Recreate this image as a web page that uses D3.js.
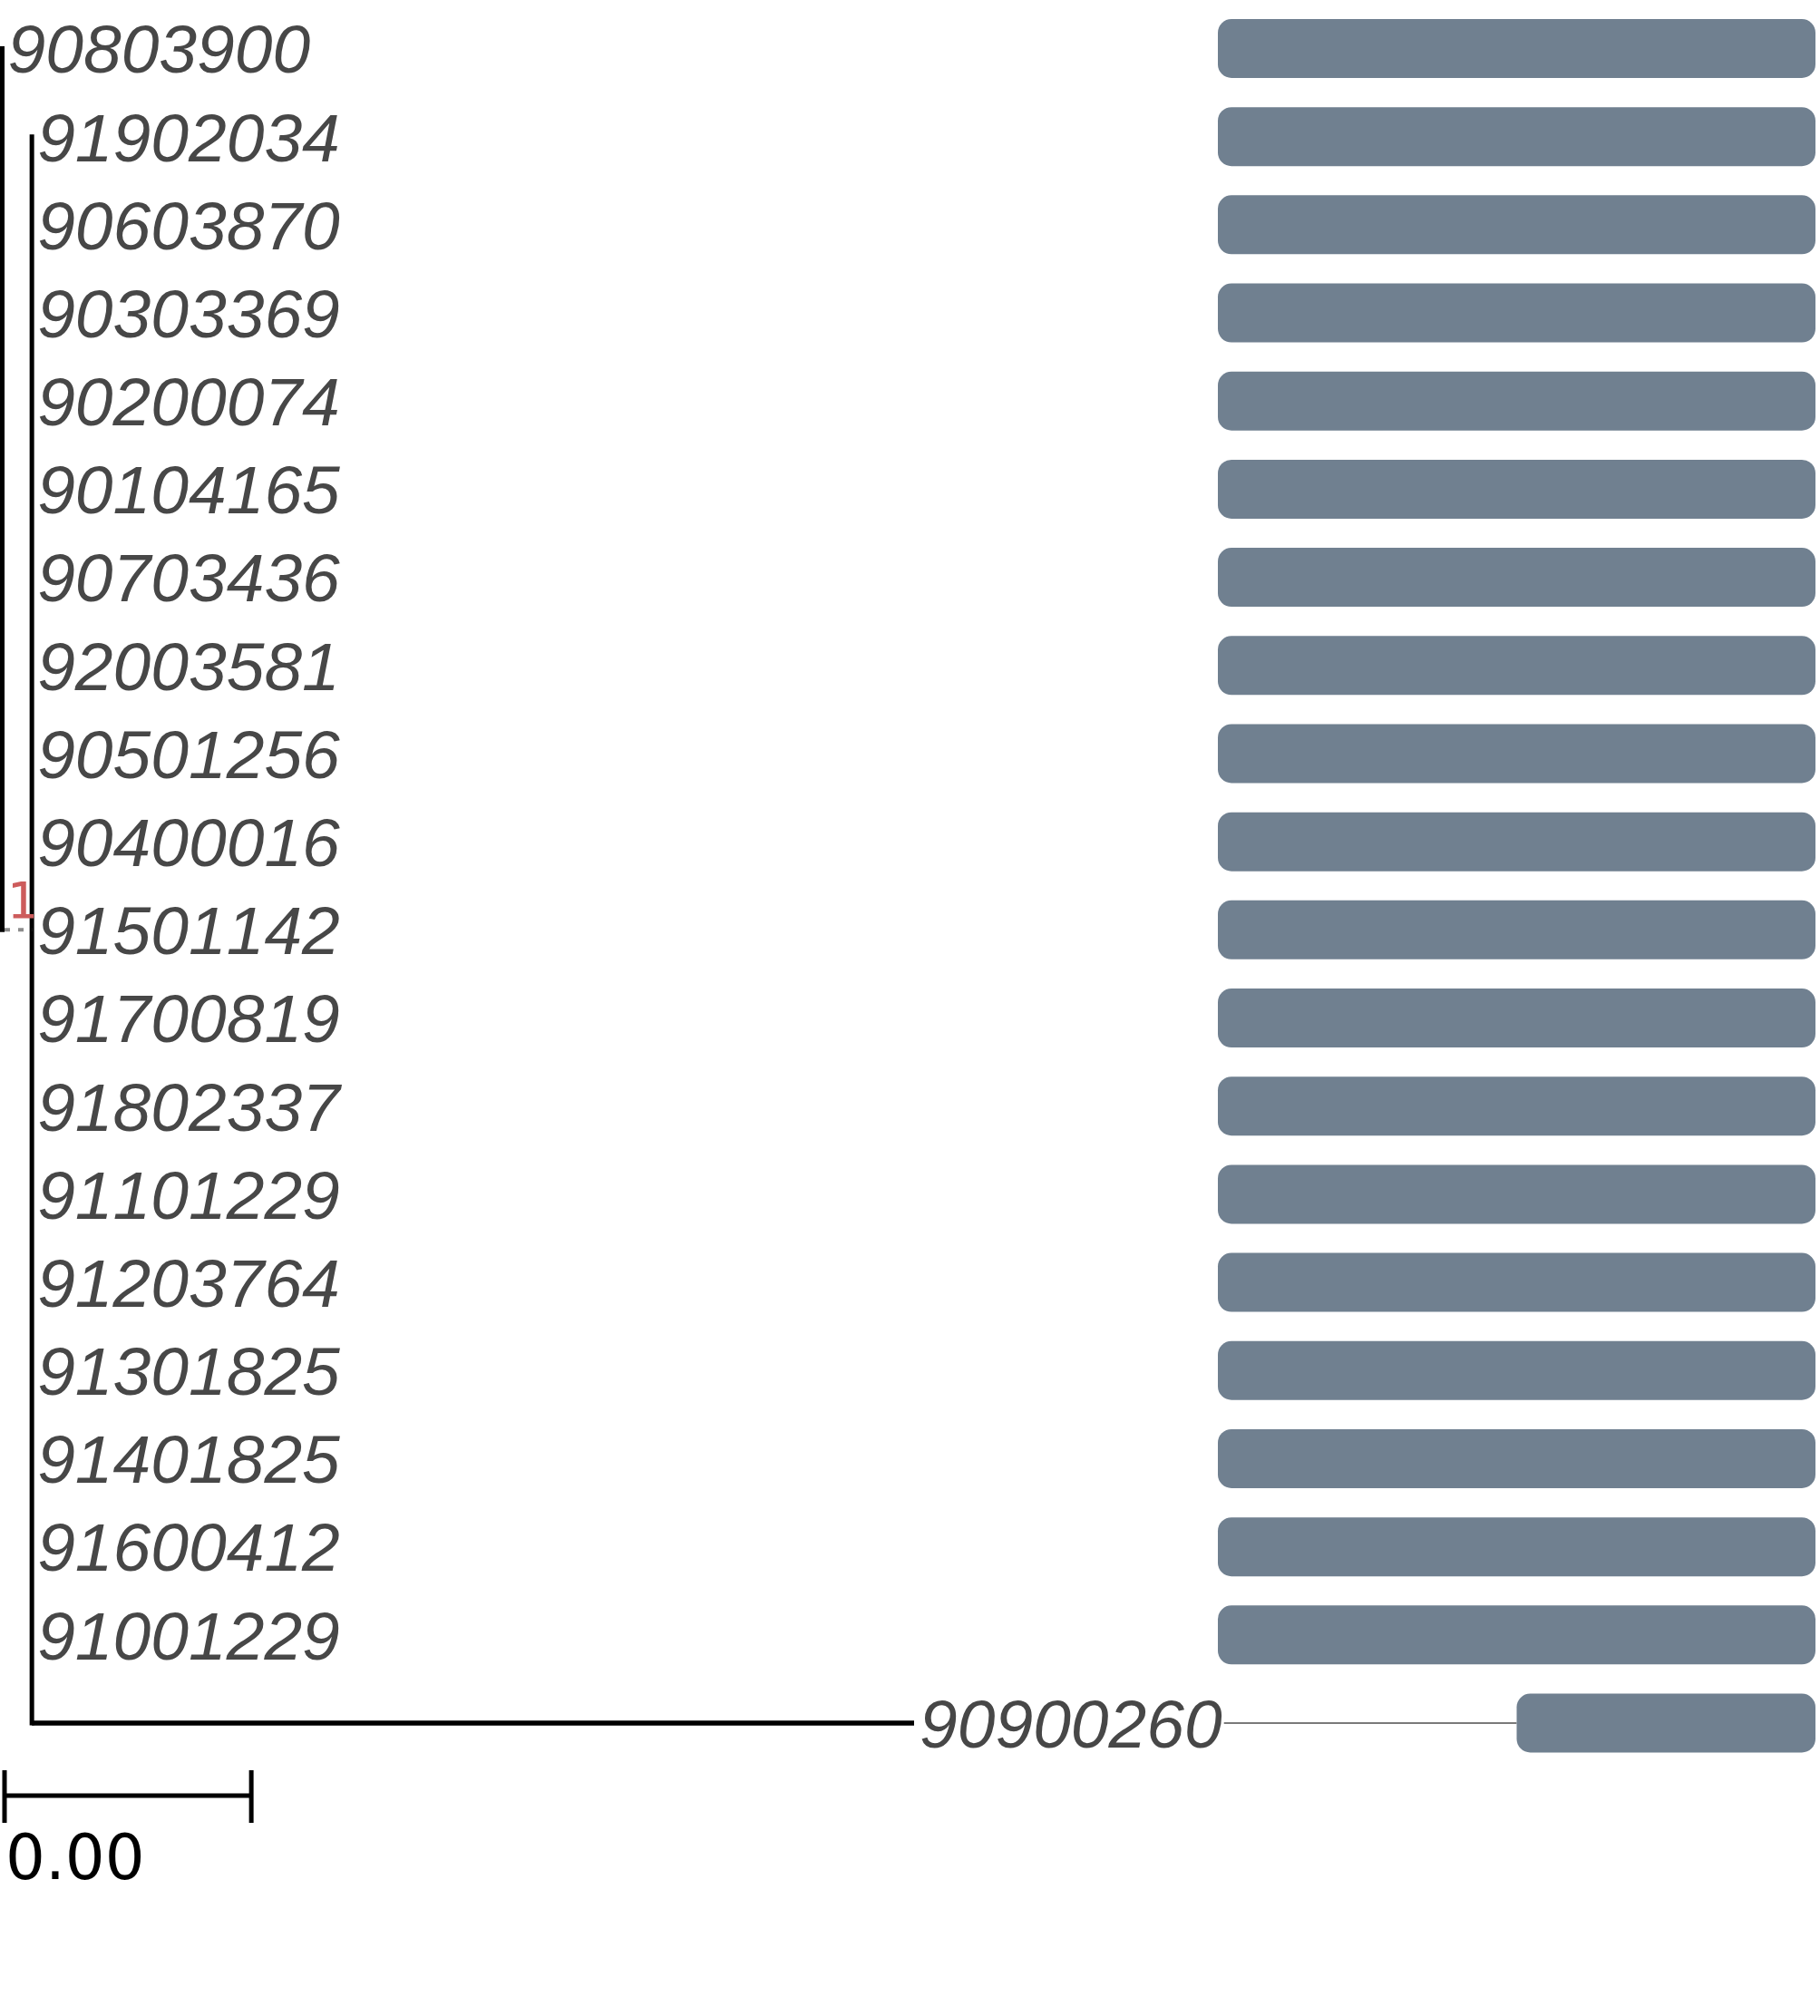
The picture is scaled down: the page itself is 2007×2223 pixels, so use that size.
<!DOCTYPE html>
<html>
<head>
<meta charset="utf-8">
<script src="https://cdn.jsdelivr.net/npm/d3@7"></script>
<style>
  body { margin: 0; background: #fff; }
  svg { display: block; }
  text { font-kerning: none; font-feature-settings: "kern" 0; }
</style>
</head>
<body>
<div id="chart"></div>
<script>
// tip labels, top to bottom
const tipLabels = ["90803900", "91902034", "90603870", "90303369", "90200074",
    "90104165", "90703436", "92003581", "90501256", "90400016", "91501142",
    "91700819", "91802337", "91101229", "91203764", "91301825", "91401825",
    "91600412", "91001229", "90900260"];

// branch lengths of the tips (substitutions/site)
const tipBranch = [0, 0, 0, 0, 0, 0, 0, 0, 0, 0, 0, 0, 0, 0, 0, 0, 0, 0, 0, 0.00715];
// the one inner clade: all tips but the first, with its branch and support
const cladeBranch = 0.00024;
const cladeSupport = "1";

// bar segments per tip (start, end on a 0-100 scale)
const barStart = [0, 0, 0, 0, 0, 0, 0, 0, 0, 0, 0, 0, 0, 0, 0, 0, 0, 0, 0, 50];
const barEnd = [100, 100, 100, 100, 100, 100, 100, 100, 100, 100,
    100, 100, 100, 100, 100, 100, 100, 100, 100, 100];

const scaleBarLength = 0.002;

const width = 2007, height = 2223;

const svg = d3.select("#chart").append("svg")
    .attr("width", width)
    .attr("height", height);

// build the tree
const treeData = {
    name: "root", length: 0, children: [
        {name: tipLabels[0], length: tipBranch[0]},
        {name: "clade", length: cladeBranch, support: cladeSupport,
            children: tipLabels.slice(1).map((t, i) => ({name: t, length: tipBranch[i + 1]}))}
    ]
};

const root = d3.hierarchy(treeData);
root.each(d => { d.depthLen = (d.parent ? d.parent.depthLen : 0) + d.data.length; });

const maxDepth = d3.max(root.leaves(), d => d.depthLen);

const x = d3.scaleLinear().domain([0, maxDepth]).range([2.5, 1008]);
const y = d3.scalePoint().domain(tipLabels).range([53.5, 1900]);
const xBar = d3.scaleLinear().domain([0, 100]).range([1343, 2002]);

// y position of nodes: leaves by row, inner nodes at mean of children
root.eachAfter(d => {
    d.py = d.children ? d3.mean(d.children, c => c.py) : y(d.data.name);
    d.px = x(d.depthLen);
});

const tree = svg.append("g").attr("class", "tree");

// vertical connectors
root.descendants().filter(d => d.children).forEach(d => {
    tree.append("line")
        .attr("x1", d.px).attr("x2", d.px)
        .attr("y1", d3.min(d.children, c => c.py))
        .attr("y2", d3.max(d.children, c => c.py))
        .attr("stroke", "black")
        .attr("stroke-width", 5)
        .attr("stroke-linecap", "square");
});

// horizontal branches
root.descendants().filter(d => d.parent && d.data.length > 0).forEach(d => {
    const inner = !!d.children;
    tree.append("line")
        .attr("x1", d.parent.px + (inner ? 2.5 : 0)).attr("x2", d.px)
        .attr("y1", d.py).attr("y2", d.py)
        .attr("stroke", inner ? "#8c8c8c" : "black")
        .attr("stroke-width", inner ? 4 : 5.5)
        .attr("stroke-dasharray", inner ? "6,9" : null);
});

// support label
root.descendants().filter(d => d.data.support).forEach(d => {
    tree.append("text")
        .attr("x", d.px - 11)
        .attr("y", d.py - 13)
        .attr("text-anchor", "middle")
        .attr("font-family", "DejaVu Sans Mono, monospace")
        .attr("font-size", 56)
        .attr("fill", "#cd5c5c")
        .text(d.data.support);
});

const leaves = root.leaves();
const fontSize = 75;

// tip labels
tree.selectAll(".tip")
    .data(leaves)
    .join("text")
    .attr("class", "tip")
    .attr("x", d => d.px + 6)
    .attr("y", d => d.py + fontSize * 0.358)
    .attr("font-family", "Liberation Sans, Arial, Helvetica, sans-serif")
    .attr("font-style", "italic")
    .attr("font-size", fontSize)
    .attr("fill", "#474747")
    .text(d => d.data.name)
    .each(function(d) { d.labelEnd = this.getComputedTextLength() + d.px + 6; });

// bars
const bars = svg.append("g").attr("class", "bars");
const barH = 65;

tipLabels.forEach((t, i) => {
    const leaf = leaves.find(l => l.data.name === t);
    const x0 = xBar(barStart[i]);
    // guide line from label to a bar that starts further right
    if (barStart[i] > 0 && leaf.labelEnd < x0) {
        bars.append("line")
            .attr("x1", leaf.labelEnd + 2).attr("x2", x0)
            .attr("y1", y(t)).attr("y2", y(t))
            .attr("stroke", "#7a7a7a")
            .attr("stroke-width", 2);
    }
    bars.append("rect")
        .attr("x", x0)
        .attr("y", y(t) - barH / 2)
        .attr("width", xBar(barEnd[i]) - x0)
        .attr("height", barH)
        .attr("rx", 15).attr("ry", 15)
        .attr("fill", "#708090");
});

// scale bar
const sb = svg.append("g").attr("class", "scale-bar")
    .attr("transform", "translate(2.5,0)");
const sbY = 1980;
const sbX0 = x(0), sbX1 = x(scaleBarLength);
sb.append("line")
    .attr("x1", sbX0).attr("x2", sbX1)
    .attr("y1", sbY).attr("y2", sbY)
    .attr("stroke", "black").attr("stroke-width", 5);
[sbX0, sbX1].forEach(v => {
    sb.append("line")
        .attr("x1", v).attr("x2", v)
        .attr("y1", sbY - 28).attr("y2", sbY + 30)
        .attr("stroke", "black").attr("stroke-width", 5);
});
sb.append("text")
    .attr("x", sbX0 + 1)
    .attr("y", 2072)
    .attr("font-family", "DejaVu Sans, sans-serif")
    .attr("font-size", 69)
    .attr("fill", "black")
    .text(d3.format(".2f")(scaleBarLength));
</script>
</body>
</html>
